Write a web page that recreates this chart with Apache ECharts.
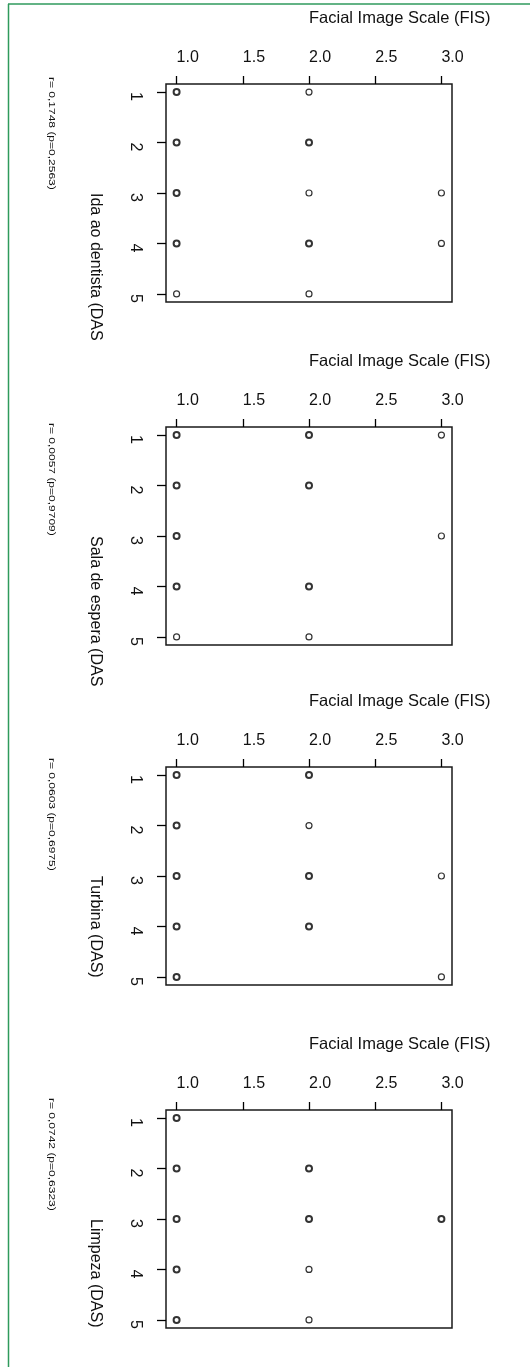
<!DOCTYPE html>
<html>
<head>
<meta charset="utf-8">
<script src="https://cdn.jsdelivr.net/npm/echarts@6/dist/echarts.min.js"></script>
<style>
  html, body { margin: 0; padding: 0; background: #fff; }
  #chart { width: 530px; height: 1367px; }
</style>
</head>
<body>
<div id="chart"></div>
<script>
// ---- data ----
const fisTicks = [1.0, 1.5, 2.0, 2.5, 3.0];
const dasTicks = [1, 2, 3, 4, 5];
const xTitle = 'Facial Image Scale (FIS)';
const panelNames = ['Ida ao dentista (DAS)', 'Sala de espera (DAS)', 'Turbina (DAS)', 'Limpeza (DAS)'];
const corrLabels = ['r= 0,1748 (p=0,2563)', 'r= 0,0057 (p=0,9709)', 'r= 0,0603 (p=0,6975)', 'r= 0,0742 (p=0,6323)'];
// points: [FIS, DAS, overlap (1 = single, 2 = several overplotted)]
const idaPoints = [
  [1, 1, 2], [2, 1, 1],
  [1, 2, 2], [2, 2, 2],
  [1, 3, 2], [2, 3, 1], [3, 3, 1],
  [1, 4, 2], [2, 4, 2], [3, 4, 1],
  [1, 5, 1], [2, 5, 1]
];
const salaPoints = [
  [1, 1, 2], [2, 1, 2], [3, 1, 1],
  [1, 2, 2], [2, 2, 2],
  [1, 3, 2], [3, 3, 1],
  [1, 4, 2], [2, 4, 2],
  [1, 5, 1], [2, 5, 1]
];
const turbinaPoints = [
  [1, 1, 2], [2, 1, 2],
  [1, 2, 2], [2, 2, 1],
  [1, 3, 2], [2, 3, 2], [3, 3, 1],
  [1, 4, 2], [2, 4, 2],
  [1, 5, 2], [3, 5, 1]
];
const limpezaPoints = [
  [1, 1, 2],
  [1, 2, 2], [2, 2, 2],
  [1, 3, 2], [2, 3, 2], [3, 3, 2],
  [1, 4, 2], [2, 4, 1],
  [1, 5, 2], [2, 5, 1]
];
const panelPoints = [idaPoints, salaPoints, turbinaPoints, limpezaPoints];

// ---- layout ----
const gridTops = [84, 427, 767, 1110];
const corrStartY = [77, 423, 758, 1098];
const FONT = '"Liberation Sans", Arial, sans-serif';

const grids = [], xAxes = [], yAxes = [], series = [], graphics = [];
panelPoints.forEach((pts, i) => {
  grids.push({
    left: 166, width: 286, top: gridTops[i], height: 218,
    show: true, borderColor: '#1a1a1a', borderWidth: 1.5, backgroundColor: 'transparent'
  });
  xAxes.push({
    type: 'value', gridIndex: i, position: 'top', min: 0.92, max: 3.08,
    axisLine: { show: false, onZero: false },
    splitLine: { show: false },
    axisTick: { show: true, inside: false, length: 8, customValues: fisTicks,
      lineStyle: { color: '#000', width: 1.3 } },
    axisLabel: { show: true, customValues: fisTicks, align: 'left', margin: 18,
      fontSize: 16, fontFamily: FONT, color: '#111',
      formatter: v => v.toFixed(1) },
    name: xTitle, nameLocation: 'middle', nameGap: 66,
    nameTextStyle: { fontSize: 16.5, fontFamily: FONT, color: '#111', align: 'left', verticalAlign: 'middle' }
  });
  yAxes.push({
    type: 'value', gridIndex: i, inverse: true, min: 0.84, max: 5.16,
    axisLine: { show: false, onZero: false },
    splitLine: { show: false },
    axisTick: { show: true, inside: false, length: 9, customValues: dasTicks,
      lineStyle: { color: '#000', width: 1.3 } },
    axisLabel: { show: true, customValues: dasTicks, rotate: -90, align: 'left', margin: 23,
      fontSize: 16, fontFamily: FONT, color: '#111' },
    name: panelNames[i], nameLocation: 'middle', nameGap: 71, nameRotate: -90,
    nameTruncate: { maxWidth: 152, ellipsis: '' },
    nameTextStyle: { fontSize: 16, fontFamily: FONT, color: '#111', align: 'left', verticalAlign: 'middle',
      width: 152, overflow: 'truncate', ellipsis: '' }
  });
  series.push({
    type: 'scatter', xAxisIndex: i, yAxisIndex: i, symbol: 'circle', symbolSize: 6,
    silent: true,
    data: pts.map(p => ({
      value: [p[0], p[1]],
      itemStyle: { color: 'rgba(0,0,0,0)', borderColor: '#000', borderWidth: p[2] > 1 ? 2 : 1.2 }
    }))
  });
  graphics.push({
    type: 'text', x: 52, y: corrStartY[i], rotation: -Math.PI / 2, scaleY: 0.8,
    style: { text: corrLabels[i], fontSize: 12, fontFamily: FONT, fill: '#111',
      textAlign: 'left', textVerticalAlign: 'middle' }
  });
});
// green frame lines of the figure
graphics.push({ type: 'line', shape: { x1: 8, y1: 4, x2: 530, y2: 4 }, style: { stroke: '#2f9a5c', lineWidth: 1.5 } });
graphics.push({ type: 'line', shape: { x1: 8.5, y1: 4, x2: 8.5, y2: 1367 }, style: { stroke: '#2f9a5c', lineWidth: 1.5 } });

const chart = echarts.init(document.getElementById('chart'), null, { renderer: 'canvas' });
chart.setOption({
  animation: false,
  backgroundColor: '#fff',
  grid: grids, xAxis: xAxes, yAxis: yAxes, series: series, graphic: graphics
});
</script>
</body>
</html>
